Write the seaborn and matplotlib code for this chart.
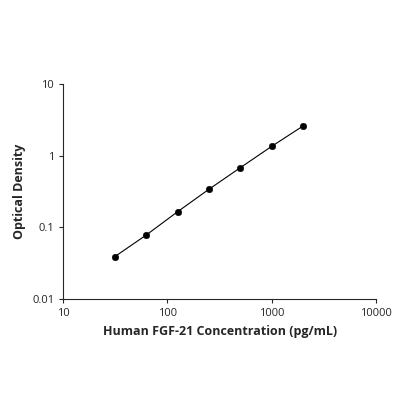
import matplotlib
matplotlib.use("Agg")
import matplotlib.pyplot as plt
import seaborn as sns
import numpy as np
import pandas as pd

conc = [31.25, 62.5, 125, 250, 500, 1000, 2000]
od = [0.039, 0.078, 0.165, 0.34, 0.68, 1.35, 2.6]
xticks = [10, 100, 1000, 10000]
yticks = [0.01, 0.1, 1, 10]

sns.set_style("ticks")
plt.rcParams['font.family'] = ['Open Sans', 'DejaVu Sans']
fig = plt.figure(figsize=(4, 4), dpi=100)
ax = fig.add_axes([0.158, 0.2525, 0.782, 0.5375])
df = pd.DataFrame({"x": conc, "y": od})
sns.lineplot(data=df, x="x", y="y", ax=ax, color="black", lw=0.8)
sns.scatterplot(data=df, x="x", y="y", ax=ax, color="black", s=22, edgecolor="black", zorder=3)
ax.set_xscale("log"); ax.set_yscale("log")
ax.set_xlim(10, 10000); ax.set_ylim(0.01, 10)
ax.set_xticks(xticks); ax.set_xticklabels([str(v) for v in xticks])
ax.set_yticks(yticks); ax.set_yticklabels(["0.01", "0.1", "1", "10"])
ax.minorticks_off()
ax.tick_params(labelsize=8, length=3, width=0.8)
for s in ["left", "bottom"]:
    ax.spines[s].set_linewidth(0.8)
sns.despine(ax=ax)
ax.set_xlabel("Human FGF-21 Concentration (pg/mL)", fontsize=9, fontweight="bold")
ax.set_ylabel("Optical Density", fontsize=9, fontweight="bold")
fig.savefig("out.png", dpi=100, facecolor="white")
